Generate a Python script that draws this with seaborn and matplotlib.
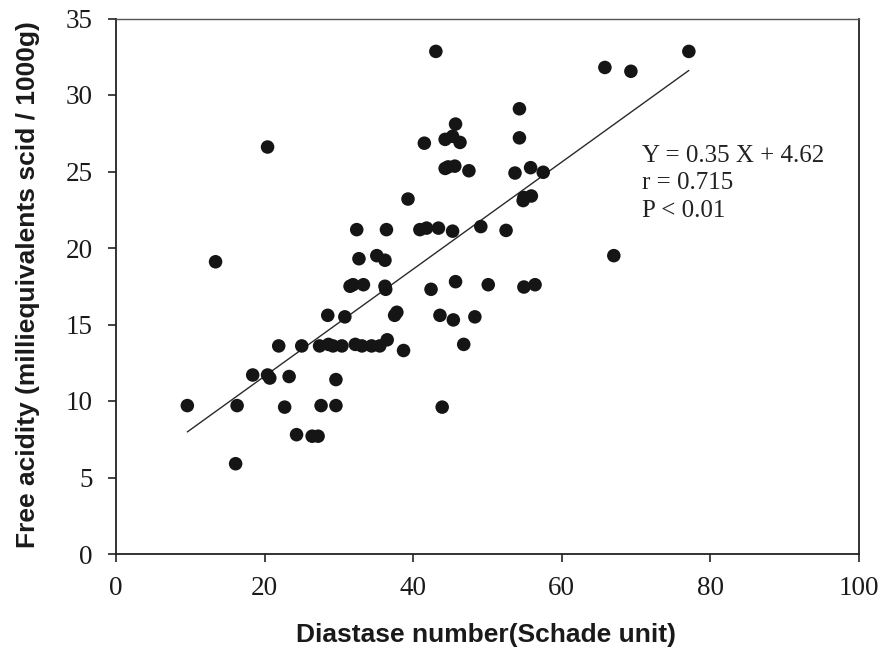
import numpy as np
import pandas as pd
import matplotlib
matplotlib.use("Agg")
import matplotlib.pyplot as plt
import seaborn as sns

# Data
diastase = [9.6, 13.4, 16.1, 16.3, 18.4, 20.4, 20.7, 20.4, 21.9, 22.7,
            23.3, 24.3, 25.0, 26.4, 27.2, 27.4, 27.6, 28.5, 28.6, 29.2,
            29.6, 29.6, 30.4, 30.8, 31.5, 31.9, 32.2, 32.4, 32.7, 33.1,
            33.3, 34.4, 35.1, 35.5, 36.2, 36.2, 36.3, 36.4, 36.5, 37.5,
            37.8, 38.7, 39.3, 40.9, 41.5, 41.8, 42.4, 43.05, 43.4, 43.6,
            43.9, 44.3, 44.3, 44.7, 45.3, 45.3, 45.4, 45.6, 45.7, 45.7,
            46.3, 46.8, 47.5, 48.3, 49.1, 50.1, 52.5, 53.7, 54.3, 54.3,
            54.9, 54.8, 54.9, 55.8, 55.9, 56.4, 57.5, 65.8, 67.0, 69.3,
            77.1]
acidity = [9.7, 19.1, 5.9, 9.7, 11.7, 11.7, 11.5, 26.6, 13.6, 9.6,
           11.6, 7.8, 13.6, 7.7, 7.7, 13.6, 9.7, 15.6, 13.7, 13.6,
           11.4, 9.7, 13.6, 15.5, 17.5, 17.6, 13.7, 21.2, 19.3, 13.6,
           17.6, 13.6, 19.5, 13.6, 19.2, 17.5, 17.3, 21.2, 14.0, 15.6,
           15.8, 13.3, 23.2, 21.2, 26.85, 21.3, 17.3, 32.85, 21.3, 15.6,
           9.6, 27.1, 25.2, 25.3, 27.3, 21.1, 15.3, 25.35, 28.1, 17.8,
           26.9, 13.7, 25.05, 15.5, 21.4, 17.6, 21.15, 24.9, 29.1, 27.2,
           23.3, 23.1, 17.45, 25.25, 23.4, 17.6, 24.95, 31.8, 19.5, 31.55,
           32.85]
slope = 0.35
intercept = 4.62
x_ticks = [0, 20, 40, 60, 80, 100]
y_ticks = [0, 5, 10, 15, 20, 25, 30, 35]
annotation = ["Y = 0.35 X + 4.62", "r = 0.715", "P < 0.01"]
x_label = "Diastase number(Schade unit)"
y_label = "Free acidity (milliequivalents scid / 1000g)"

sns.set_theme(style="ticks")
plt.rcParams['font.family'] = ['Liberation Serif', 'DejaVu Serif']

W, H = 883, 652
fig = plt.figure(figsize=(W / 100, H / 100), dpi=100)
ax = fig.add_axes([116 / W, (H - 554) / H, (859 - 116) / W, (554 - 18.5) / H])

df = pd.DataFrame({"x": diastase, "y": acidity})
sns.scatterplot(data=df, x="x", y="y", ax=ax, s=95, color="#151515",
                edgecolor="none", linewidth=0, zorder=3)

fx = np.array([min(diastase), max(diastase)])
fit = pd.DataFrame({"x": fx, "y": slope * fx + intercept})
sns.lineplot(data=fit, x="x", y="y", ax=ax, color="#2a2a2a", lw=1.0, zorder=2)

ax.set_xlim(0, 100)
ax.set_ylim(0, 35)
ax.set_xticks(x_ticks)
ax.set_yticks(y_ticks)
ax.tick_params(axis="both", direction="out", length=6, width=1.2,
               color="#222222", labelsize=19.5, labelcolor="#1a1a1a")
ax.tick_params(axis="x", pad=10)
ax.tick_params(axis="y", pad=11)
for side in ["left", "bottom", "right", "top"]:
    ax.spines[side].set_visible(True)
    ax.spines[side].set_color("#222222")
    ax.spines[side].set_linewidth(1.3)
ax.spines["top"].set_color("#555555")
ax.spines["top"].set_linewidth(1.0)

ax.set_xlabel("")
ax.set_ylabel("")
fig.text(486 / W, 1 - 635 / H, x_label, ha="center", va="center",
         fontsize=19, fontweight="bold", family="Liberation Sans", color="#1a1a1a")
fig.text(28 / W, 1 - 285 / H, y_label, ha="center", va="center", rotation=90,
         fontsize=19, fontweight="bold", family="Liberation Sans", color="#1a1a1a")

ax.text(0.708, 0.764, "\n".join(annotation), transform=ax.transAxes,
        ha="left", va="top", fontsize=18, linespacing=1.32, color="#222222")

fig.savefig("out.png", dpi=100)
